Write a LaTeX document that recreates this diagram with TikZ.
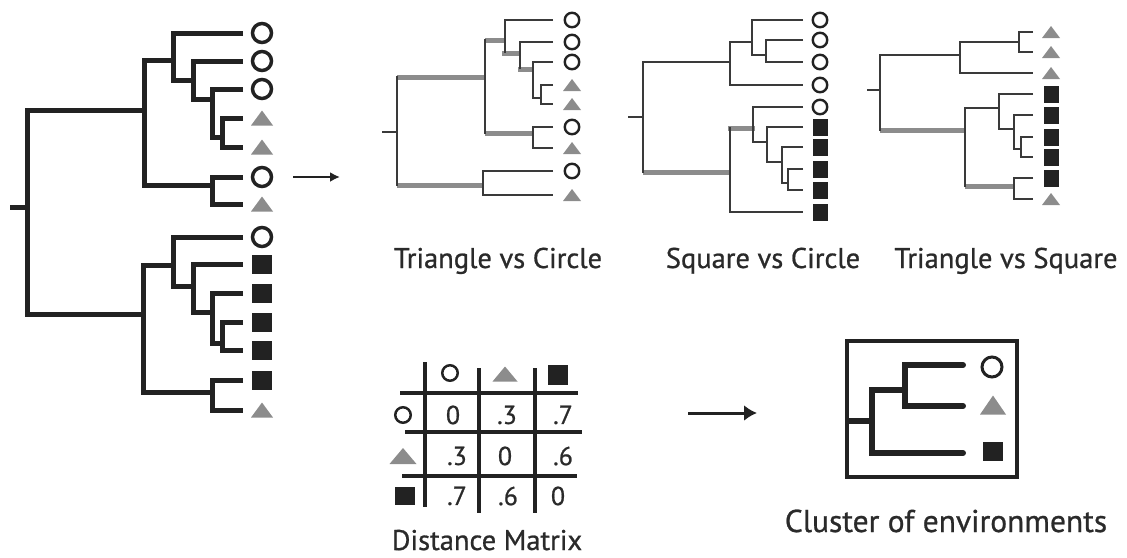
\documentclass[tikz,border=0pt]{standalone}
\usepackage{fontspec}
\setmainfont{PT Sans}[BoldFont=PT Sans, BoldFeatures={FakeBold=0.8}]
\usetikzlibrary{arrows.meta}
\definecolor{dk}{HTML}{222222}
\definecolor{tn}{HTML}{3A3A3A}
\definecolor{gr}{HTML}{8C8C8C}
\definecolor{tx}{HTML}{2A2A2A}
\tikzset{
  bline/.style={line width=5pt, draw=dk, line join=miter},
  thin/.style={line width=2pt, draw=tn},
  hi/.style={line width=5pt, draw=gr},
  trishape/.style={rectangle, draw=none, inner sep=0pt,
     path picture={\fill[gr] (path picture bounding box.south west) -- (path picture bounding box.south east) -- (path picture bounding box.north) -- cycle;}},
  bc/.style={circle, draw=dk, line width=3.5pt, minimum size=19pt, inner sep=0pt},
  bt/.style={trishape, minimum width=22pt, minimum height=15pt},
  bs/.style={rectangle, fill=dk, minimum width=20pt, minimum height=19pt, inner sep=0pt},
  sc/.style={circle, draw=dk, line width=2.4pt, minimum size=14.5pt, inner sep=0pt},
  st/.style={trishape, minimum width=18pt, minimum height=12pt},
  ss/.style={rectangle, fill=dk, minimum width=15pt, minimum height=17pt, inner sep=0pt},
  grid/.style={line width=4pt, draw=dk},
  val/.style={inner sep=0pt, text=tx, font=\fontsize{26}{28}\selectfont\bfseries},
  lab/.style={inner sep=0pt, anchor=base, text=tx, font=\fontsize{28.5}{30}\selectfont\bfseries},
}
\begin{document}
\begin{tikzpicture}[x=1pt,y=-1pt]
\useasboundingbox (0,0) rectangle (1127,557);
% ---------------- big tree
\foreach \n/\y in {a1/33,a2/61,a3/89,a6/177,a8/237}{\node[bc] (\n) at (262,\y) {};}
\foreach \n/\y in {a4/118,a5/147,a7/204,a14/410}{\node[bt] (\n) at (262,\y) {};}
\foreach \n/\y in {a9/264,a10/293,a11/322,a12/350,a13/380}{\node[bs] (\n) at (262,\y) {};}
\draw[bline] (10,207)--(27,207);
\draw[bline] (144,110)--(27,110)--(27,314)--(143,314);
\draw[bline] (173,60)--(144,60)--(144,185)--(212,185);
\draw[bline] (243,33)--(173,33)--(173,80)--(193,80);
\draw[bline] (243,61)--(193,61)--(193,99)--(212,99);
\draw[bline] (243,89)--(212,89)--(212,137)--(222,137);
\draw[bline] (243,118)--(222,118)--(222,147)--(243,147);
\draw[bline] (243,177)--(212,177)--(212,204)--(243,204);
\draw[bline] (173,265)--(143,265)--(143,392)--(212,392);
\draw[bline] (243,237)--(173,237)--(173,286)--(193,286);
\draw[bline] (243,264)--(193,264)--(193,312)--(212,312);
\draw[bline] (243,293)--(212,293)--(212,343)--(222,343);
\draw[bline] (243,322)--(222,322)--(222,350)--(243,350);
\draw[bline] (243,380)--(212,380)--(212,410)--(243,410);
% arrow 1
\coordinate (ar1s) at (293,177); \coordinate (ar1e) at (340,177);
\draw[line width=2.2pt, draw=dk, -{Latex[length=10pt,width=10pt]}] (ar1s) -- (ar1e);
% ---------------- tree 2 : Triangle vs Circle
\foreach \n/\y in {b1/20,b2/42,b3/62,b6/127,b8/171}{\node[sc] (\n) at (572,\y) {};}
\foreach \n/\y in {b4/85,b5/104,b7/148,b9/195}{\node[st] (\n) at (572,\y) {};}
\draw[hi] (397,77)--(485,77);
\draw[hi] (485,40)--(505,40);
\draw[hi] (502,53)--(521,53);
\draw[hi] (518,69)--(534,69);
\draw[hi] (485,133)--(533,133);
\draw[hi] (397,185)--(483,185);
\draw[thin] (382,132)--(397,132);
\draw[thin] (397,76)--(397,186);
\draw[thin] (485,39)--(485,134);
\draw[thin] (553,20)--(505,20)--(505,53);
\draw[thin] (553,42)--(520,42)--(520,69);
\draw[thin] (553,62)--(533,62)--(533,98)--(541,98);
\draw[thin] (553,85)--(541,85)--(541,104)--(553,104);
\draw[thin] (553,127)--(533,127)--(533,148)--(553,148);
\draw[thin] (553,171)--(483,171)--(483,195)--(553,195);
% ---------------- tree 3 : Square vs Circle
\foreach \n/\y in {c1/20,c2/40,c3/62,c4/85,c5/107}{\node[sc] (\n) at (820,\y) {};}
\foreach \n/\y in {c6/127,c7/147,c8/169,c9/190,c10/212}{\node[ss] (\n) at (820,\y) {};}
\draw[hi] (643,172)--(730,172);
\draw[hi] (728,128)--(755,128);
\draw[thin] (628,117)--(643,117);
\draw[thin] (730,62)--(643,62)--(643,173);
\draw[thin] (752,42)--(730,42)--(730,85)--(803,85);
\draw[thin] (803,20)--(752,20)--(752,55)--(766,55);
\draw[thin] (803,40)--(766,40)--(766,62)--(803,62);
\draw[thin] (730,127)--(730,212)--(803,212);
\draw[thin] (803,107)--(753,107)--(753,142)--(767,142);
\draw[thin] (803,127)--(767,127)--(767,162)--(782,162);
\draw[thin] (803,147)--(782,147)--(782,183)--(788,183);
\draw[thin] (803,169)--(788,169)--(788,190)--(803,190);
% ---------------- tree 4 : Triangle vs Square
\foreach \n/\y in {d1/32,d2/52,d3/73,d9/199}{\node[st] (\n) at (1051,\y) {};}
\foreach \n/\y in {d4/94,d5/115,d6/137,d7/157,d8/178}{\node[ss] (\n) at (1051,\y) {};}
\draw[hi] (880,130)--(965,130);
\draw[hi] (965,186)--(1014,186);
\draw[thin] (867,90)--(880,90);
\draw[thin] (960,55)--(880,55)--(880,131);
\draw[thin] (1019,42)--(960,42)--(960,73)--(1033,73);
\draw[thin] (1033,32)--(1019,32)--(1019,52)--(1033,52);
\draw[thin] (965,107)--(965,187);
\draw[thin] (965,108)--(999,108);
\draw[thin] (1033,94)--(999,94)--(999,129)--(1014,129);
\draw[thin] (1033,115)--(1014,115)--(1014,149)--(1021,149);
\draw[thin] (1033,137)--(1021,137)--(1021,157)--(1033,157);
\draw[thin] (1033,178)--(1014,178)--(1014,199)--(1033,199);
% labels
\node[lab] (l1) at (498,268) {Triangle vs Circle};
\node[lab] (l2) at (763,268) {Square vs Circle};
\node[lab] (l3) at (1006,268) {Triangle vs Square};
% ---------------- distance matrix
\draw[grid] (425,362)--(425,507);
\draw[grid] (479,368)--(479,513);
\draw[grid] (535,368)--(535,513);
\draw[grid] (400,393)--(578,393);
\draw[grid] (405,432)--(582,432);
\draw[grid] (402,476)--(577,476);
\node[circle, draw=dk, line width=2.5pt, minimum size=15.5pt, inner sep=0pt] (hc) at (450,373) {};
\node[trishape, minimum width=25pt, minimum height=15pt] (ht) at (505,374) {};
\node[rectangle, fill=dk, minimum width=20pt, minimum height=20pt, inner sep=0pt] (hs) at (558,375) {};
\node[circle, draw=dk, line width=2.5pt, minimum size=15.5pt, inner sep=0pt] (rc) at (403,415) {};
\node[trishape, minimum width=27pt, minimum height=16pt] (rt) at (403,456) {};
\node[rectangle, fill=dk, minimum width=20pt, minimum height=18pt, inner sep=0pt] (rs) at (405,496) {};
\node[val] (m11) at (453,415) {0};
\node[val] (m12) at (507,415) {.3};
\node[val] (m13) at (563,415) {.7};
\node[val] (m21) at (457,456) {.3};
\node[val] (m22) at (505,456) {0};
\node[val] (m23) at (563,456) {.6};
\node[val] (m31) at (457,496) {.7};
\node[val] (m32) at (508,496) {.6};
\node[val] (m33) at (558,496) {0};
\node[lab] (l4) at (487,550) {Distance Matrix};
% arrow 2
\coordinate (ar2s) at (688,413); \coordinate (ar2e) at (757,413);
\draw[line width=3pt, draw=dk, -{Latex[length=13pt,width=16pt]}] (ar2s) -- (ar2e);
% ---------------- cluster box
\draw[line width=4pt, draw=dk] (847,341) rectangle (1017,477);
\draw[line width=6pt, draw=dk, line cap=round] (963,365)--(905,365)--(905,406)--(963,406);
\draw[line width=6pt, draw=dk, line cap=round] (905,390)--(872,390)--(872,453)--(963,453);
\draw[line width=6pt, draw=dk] (849,421)--(872,421);
\node[circle, draw=dk, line width=3pt, minimum size=20pt, inner sep=0pt] (kc) at (992,367) {};
\node[trishape, minimum width=26pt, minimum height=19pt] (kt) at (993,405) {};
\node[rectangle, fill=dk, minimum width=20pt, minimum height=19pt, inner sep=0pt] (ks) at (993,451) {};
\node[lab, font=\fontsize{31.5}{33}\selectfont\bfseries] (l5) at (946,532) {Cluster of environments};
\end{tikzpicture}
\end{document}
